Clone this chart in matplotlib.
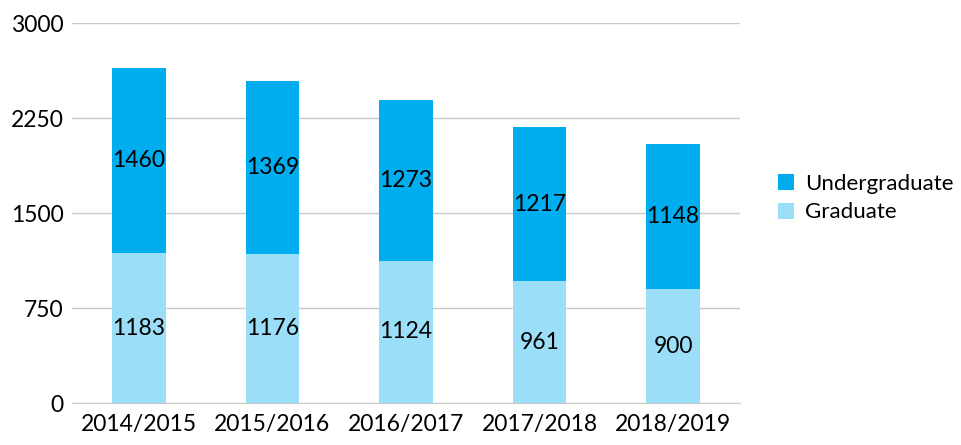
import matplotlib
matplotlib.use("Agg")
import matplotlib.pyplot as plt
import numpy as np

years = ["2014/2015", "2015/2016", "2016/2017", "2017/2018", "2018/2019"]
graduate = [1183, 1176, 1124, 961, 900]
undergraduate = [1460, 1369, 1273, 1217, 1148]

C_UG = "#00adee"
C_GR = "#9bdef8"

plt.rcParams["font.family"] = ["Lato", "DejaVu Sans"]
FS = 16.5

fig = plt.figure(figsize=(9.62, 4.45), dpi=100)
ax = fig.add_axes([0.075, 0.094, 0.694, 0.854])

x = np.arange(len(years))
b1 = ax.bar(x, graduate, width=0.4, color=C_GR, label="Graduate", zorder=3)
b2 = ax.bar(x, undergraduate, width=0.4, bottom=graduate, color=C_UG,
            label="Undergraduate", zorder=3)

for xi, g, u in zip(x, graduate, undergraduate):
    ax.text(xi, g / 2, str(g), ha="center", va="center", fontsize=FS, zorder=4)
    ax.text(xi, g + u / 2, str(u), ha="center", va="center", fontsize=FS, zorder=4)

ax.set_xlim(-0.5, len(years) - 0.5)
ax.set_ylim(0, 3000)
ax.set_yticks([0, 750, 1500, 2250, 3000])
ax.set_xticks(x)
ax.set_xticklabels(years)
ax.tick_params(axis="both", length=0, labelsize=FS)
ax.tick_params(axis="y", pad=6)
ax.tick_params(axis="x", pad=8)
ax.grid(axis="y", color="#c9c9c9", lw=1.0, zorder=0)
for s in ["top", "right", "left"]:
    ax.spines[s].set_visible(False)
ax.spines["bottom"].set_color("#c9c9c9")

handles = [b2, b1]
ax.legend(handles, ["Undergraduate", "Graduate"], loc="center left",
          bbox_to_anchor=(1.0, 0.54), frameon=False, fontsize=16,
          handlelength=0.75, handleheight=0.75, handletextpad=0.5,
          labelspacing=0.4, borderaxespad=1.3)

fig.savefig("out.png", dpi=100)
